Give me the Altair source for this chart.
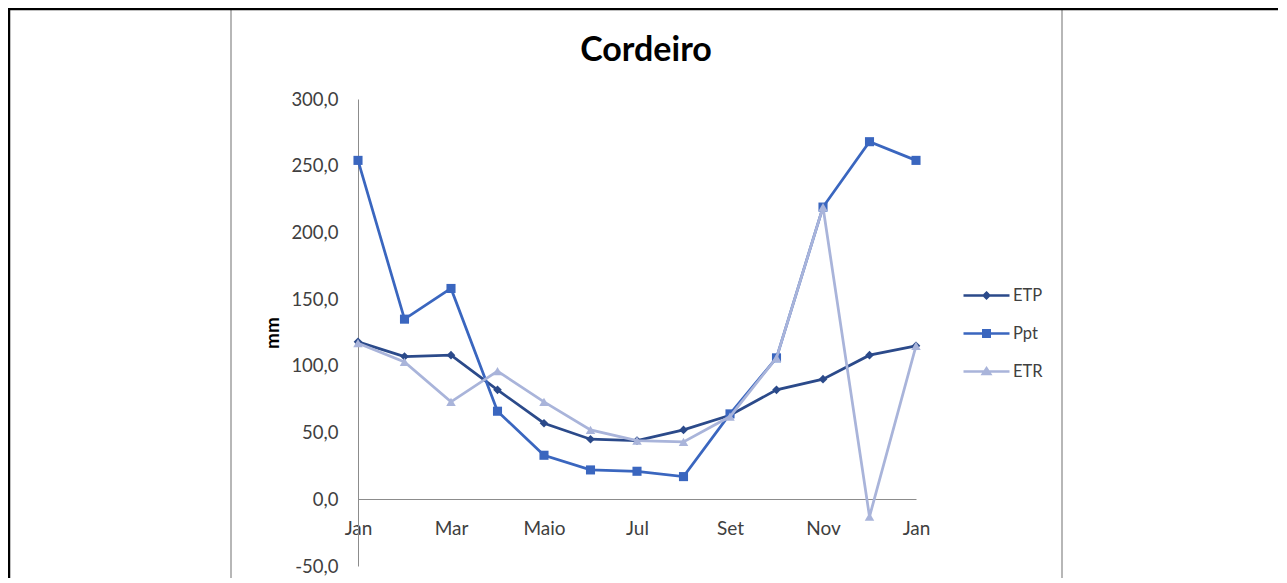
import altair as alt
import pandas as pd

# ---- data ----
chart_title = "Cordeiro"
months = ["Jan", "Fev", "Mar", "Abr", "Maio", "Jun", "Jul", "Ago", "Set", "Out", "Nov", "Dez", "Jan"]
etp = [118, 107, 108, 82, 57, 45, 44, 52, 63, 82, 90, 108, 115]
ppt = [254, 135, 158, 66, 33, 22, 21, 17, 64, 106, 219, 268, 254]
etr = [117, 103, 73, 96, 73, 52, 44, 43, 62, 106, 219, -13, 115]
series_names = ["ETP", "Ppt", "ETR"]
series_colors = ["#2B4A8A", "#3A66BF", "#A9B4DA"]
point_shapes = ["diamond", "square", "triangle-up"]
point_sizes = [75, 90, 95]
# legend symbols: a line segment with a (stroke-filled) marker in its middle
legend_paths = [
    "M-1,0H1M0,-0.12L0.12,0L0,0.12L-0.12,0ZM0,-0.05L0.05,0L0,0.05L-0.05,0Z",
    "M-1,0H1M-0.14,-0.14H0.14V0.14H-0.14ZM-0.06,-0.06H0.06V0.06H-0.06Z",
    "M-1,0H1M0,-0.14L0.16,0.11L-0.16,0.11ZM0,-0.04L0.06,0.06L-0.06,0.06Z",
]
y_ticks = [-50, 0, 50, 100, 150, 200, 250, 300]
x_ticks = [0, 2, 4, 6, 8, 10, 12]

rows = []
for name, vals in zip(series_names, [etp, ppt, etr]):
    for i, (m, v) in enumerate(zip(months, vals)):
        rows.append({"i": i, "month": m, "series": name, "value": v})
df = pd.DataFrame(rows)

W, H = 558, 467
PL, PT, PR, PB = 350, 91, 362, 12

FONT = "Lato"
month_expr = "[" + ",".join("'" + m + "'" for m in months) + "][datum.value]"
num_expr = "(datum.value < 0 ? '-' : '') + replace(format(abs(datum.value), '.1f'), '.', ',')"

X = alt.X(
    "i:Q",
    scale=alt.Scale(domain=[0, 12], nice=False, zero=False),
    axis=alt.Axis(
        values=x_ticks, labelExpr=month_expr, title=None, grid=False,
        ticks=False, tickSize=0, domainColor="#8C8C8C", domainWidth=1,
        offset=-67, labelFont=FONT, labelFontSize=19, labelColor="#404040",
        labelPadding=20, labelFlush=False, labelBaseline="top",
    ),
)
Y = alt.Y(
    "value:Q",
    scale=alt.Scale(domain=[-50, 300], nice=False),
    axis=alt.Axis(
        values=y_ticks, labelExpr=num_expr, title="mm", grid=False,
        ticks=False, tickSize=0, domainColor="#8C8C8C", domainWidth=1,
        labelFont=FONT, labelFontSize=18.5, labelColor="#404040", labelPadding=20,
        titleFont=FONT, titleFontSize=19, titleFontWeight="bold", titleColor="black",
        titleX=-86, titleY=H / 2, titleAngle=270, titleAlign="center",
        titleBaseline="middle",
    ),
)
C = alt.Color("series:N", scale=alt.Scale(domain=series_names, range=series_colors), legend=None)
S = alt.Shape("series:N", scale=alt.Scale(domain=series_names, range=point_shapes), legend=None)
Z = alt.Size("series:N", scale=alt.Scale(domain=series_names, range=point_sizes), legend=None)

one = alt.Data(values=[{"k": 1}])
frame = alt.Chart(one).mark_rect(fillOpacity=0, stroke="#A0A0A0", strokeWidth=1.5).encode(
    x=alt.value(-127), x2=alt.value(704), y=alt.value(-90), y2=alt.value(520)
)
top_line = alt.Chart(one).mark_rule(color="black", strokeWidth=2.5).encode(
    x=alt.value(-PL), x2=alt.value(W + PR), y=alt.value(-90)
)
left_line = alt.Chart(one).mark_rule(color="black", strokeWidth=2.5).encode(
    x=alt.value(-PL + 1), y=alt.value(-91), y2=alt.value(H + PB)
)
title_mark = alt.Chart(alt.Data(values=[{"t": chart_title}])).mark_text(
    font=FONT, fontSize=34, fontWeight="bold", color="black",
    align="center", baseline="alphabetic",
).encode(text="t:N", x=alt.value(288), y=alt.value(-38))

layers = [frame, top_line, left_line, title_mark]
base = alt.Chart(df)
for s in series_names:
    b = base.transform_filter(alt.datum.series == s)
    layers.append(b.mark_line(strokeWidth=2.75).encode(x=X, y=Y, color=C))
    layers.append(b.mark_point(filled=True, opacity=1, strokeWidth=0).encode(x=X, y=Y, color=C, shape=S, size=Z))

leg = alt.Legend(
    title=None, orient="none", legendX=604, legendY=172, padding=0,
    symbolSize=2116, symbolStrokeWidth=2.5, symbolOpacity=1,
    labelFont=FONT, labelFontSize=16.5, labelColor="#404040", labelOffset=2,
    rowPadding=5,
)
legend_layer = base.transform_filter("false").mark_point(filled=False, opacity=1, strokeWidth=2.5).encode(
    color=alt.Color("series:N", scale=alt.Scale(domain=series_names, range=series_colors), legend=leg),
    shape=alt.Shape("series:N", scale=alt.Scale(domain=series_names, range=legend_paths), legend=leg),
)
layers.append(legend_layer)

chart = (
    alt.layer(*layers)
    .resolve_scale(shape="independent", color="independent", size="independent")
    .properties(
        width=W, height=H,
        padding={"left": PL, "top": PT, "right": PR, "bottom": PB},
        autosize=alt.AutoSizeParams(type="none"),
        background="white",
    )
    .configure_view(strokeWidth=0)
)

chart.save("out.html", embed_options={"renderer": "svg", "actions": False})
